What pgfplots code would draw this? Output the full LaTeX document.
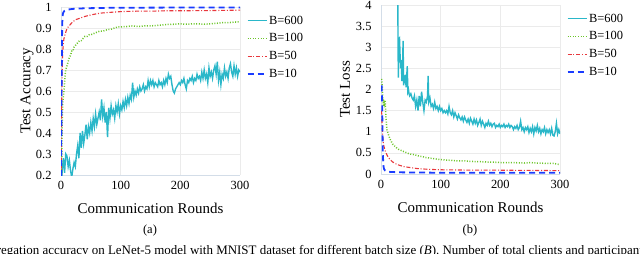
\documentclass[border=0pt]{standalone}
\usepackage{pgfplots}
\pgfplotsset{compat=1.18}
\usepackage{fontspec}
\setmainfont{Liberation Serif}
\definecolor{cB600}{HTML}{2AB7C9}
\definecolor{cB100}{HTML}{6CC52A}
\definecolor{cB50}{HTML}{E8383D}
\definecolor{cB10}{HTML}{1A3CFF}
\definecolor{gridc}{HTML}{EBEBEB}
\definecolor{axc}{HTML}{D3DDE8}
\pgfplotsset{
  mystyle/.style={
    width=179bp, height=168bp, scale only axis,
    xmin=0, xmax=300, xtick={0,100,200,300},
    axis lines*=left, axis line style={draw=axc, line width=0.8bp, -},
    grid=major, major grid style={draw=gridc, line width=0.6bp},
    major tick length=0pt,
    /pgf/number format/assume math mode=true,
    tick label style={font=\fontsize{12.5}{15}\selectfont},
    yticklabel style={xshift=-6bp},
    xticklabel style={yshift=-3bp},
    label style={font=\fontsize{15}{18}\selectfont},
    x label style={at={(axis description cs:0.5,0)}, anchor=center, yshift=-33bp},
    legend style={draw=none, fill=none, anchor=north west, at={(1.02,0.97)},
      font=\fontsize{12.5}{15}\selectfont, cells={anchor=west}, row sep=5bp,
      nodes={inner sep=1.5bp}},
    legend image code/.code={\draw[##1] (0bp,0bp) -- (19bp,0bp);},
    clip=true,
  },
  s600/.style={color=cB600, line width=1.4bp, solid},
  s100/.style={color=cB100, line width=1.5bp, dash pattern=on 1bp off 1.6bp},
  s50/.style={color=cB50, line width=1.1bp, dash pattern=on 4bp off 1.8bp on 1bp off 1.8bp},
  s10/.style={color=cB10, line width=1.8bp, dash pattern=on 6bp off 4bp},
}
\begin{document}
\begin{tikzpicture}[x=1bp,y=1bp]
\begin{axis}[mystyle, at={(61bp,78bp)}, anchor=south west,
  ymin=0.2, ymax=1, ytick={0.2,0.3,0.4,0.5,0.6,0.7,0.8,0.9,1},
  xlabel={Communication Rounds}, ylabel={Test Accuracy},
  y label style={at={(axis description cs:0,0.5)}, anchor=center, rotate=0, yshift=34bp}]
\addplot[s600] coordinates {
(0,0.12)(2,0.22)(4,0.28)(6,0.21)(8,0.30)(10,0.29)(12,0.24)(14,0.27)(16,0.22)(18,0.19)
(20,0.23)(22,0.26)(24,0.24)(26,0.30)(28,0.34)(30,0.28)(32,0.40)(34,0.33)(36,0.41)(38,0.35)
(40,0.39)(42,0.44)(44,0.37)(46,0.43)(48,0.40)(50,0.45)(52,0.41)(54,0.47)(56,0.43)(58,0.49)
(60,0.44)(62,0.47)(64,0.50)(66,0.46)(68,0.56)(70,0.48)(72,0.52)(74,0.45)(76,0.50)(78,0.38)
(80,0.52)(82,0.47)(84,0.53)(86,0.49)(88,0.51)(90,0.47)(92,0.53)(94,0.50)(96,0.54)(98,0.49)
(100,0.53)(102,0.51)(104,0.55)(106,0.52)(108,0.56)(110,0.53)(112,0.57)(114,0.54)(116,0.58)(118,0.56)
(120,0.64)(122,0.57)(124,0.60)(126,0.58)(128,0.61)(130,0.59)(132,0.62)(134,0.60)(136,0.61)(138,0.63)
(140,0.60)(142,0.62)(144,0.61)(146,0.65)(148,0.62)(150,0.65)(152,0.63)(154,0.65)(156,0.62)(158,0.64)
(160,0.63)(162,0.62)(164,0.65)(166,0.63)(168,0.64)(170,0.62)(172,0.65)(174,0.63)(176,0.66)(178,0.64)
(180,0.68)(182,0.66)(184,0.67)(186,0.63)(188,0.60)(190,0.59)(192,0.61)(194,0.62)(196,0.63)(198,0.64)
(200,0.63)(202,0.65)(204,0.64)(206,0.66)(208,0.63)(210,0.61)(212,0.65)(214,0.64)(216,0.66)(218,0.65)
(220,0.67)(222,0.64)(224,0.66)(226,0.65)(228,0.68)(230,0.66)(232,0.67)(234,0.65)(236,0.69)(238,0.66)
(240,0.70)(242,0.66)(244,0.68)(246,0.64)(248,0.71)(250,0.67)(252,0.69)(254,0.66)(256,0.70)(258,0.72)
(260,0.68)(262,0.74)(264,0.65)(266,0.69)(268,0.63)(270,0.68)(272,0.66)(274,0.71)(276,0.67)(278,0.69)
(280,0.66)(282,0.71)(284,0.73)(286,0.69)(288,0.67)(290,0.72)(292,0.68)(294,0.71)(296,0.67)(298,0.70)(300,0.69)
};
\addlegendentry{B=600}
\addplot[s100] coordinates {
(0,0.10)(1,0.22)(2,0.45)(3,0.55)(4,0.57)(5,0.60)(6,0.64)(7,0.68)(8,0.70)(10,0.72)(12,0.74)(14,0.76)
(16,0.77)(18,0.79)(20,0.79)(22,0.81)(25,0.82)(28,0.83)(31,0.84)(34,0.84)(37,0.85)(40,0.86)(44,0.86)
(48,0.87)(52,0.87)(56,0.875)(60,0.88)(65,0.885)(70,0.885)(75,0.89)(80,0.893)(85,0.895)(90,0.90)
(95,0.905)(100,0.905)(110,0.907)(120,0.91)(130,0.907)(140,0.91)(150,0.91)(160,0.912)(170,0.915)
(180,0.917)(190,0.918)(200,0.92)(210,0.918)(220,0.92)(230,0.92)(240,0.918)(250,0.92)(260,0.922)
(270,0.925)(280,0.925)(290,0.928)(300,0.93)
};
\addlegendentry{B=100}
\addplot[s50] coordinates {
(0,0.10)(1,0.50)(2,0.70)(3,0.79)(4,0.83)(5,0.85)(7,0.87)(9,0.89)(12,0.905)(15,0.915)(20,0.93)
(25,0.94)(30,0.945)(35,0.95)(40,0.955)(50,0.962)(60,0.968)(70,0.972)(80,0.974)(90,0.976)(100,0.978)
(125,0.98)(150,0.98)(175,0.982)(200,0.982)(250,0.983)(300,0.985)
};
\addlegendentry{B=50}
\addplot[s10] coordinates {
(0,0.10)(1,0.60)(2,0.92)(3,0.965)(4,0.975)(6,0.982)(8,0.985)(12,0.988)(20,0.991)(40,0.994)
(80,0.996)(150,0.997)(300,0.998)
};
\addlegendentry{B=10}
\end{axis}
\begin{axis}[mystyle, at={(381bp,79bp)}, anchor=south west, height=169bp,
  ymin=0, ymax=4, ytick={0,0.5,1,1.5,2,2.5,3,3.5,4},
  xlabel={Communication Rounds}, ylabel={Test Loss},
  y label style={at={(axis description cs:0,0.5)}, anchor=center, yshift=36bp}]
\addplot[s600] coordinates {
(28,4.3)(29,2.28)(30,3.2)(31,3.22)(32,2.8)(33,2.5)(34,2.7)(35,2.2)(36,2.45)(37,3.15)(38,2.1)(39,2.3)
(40,2.15)(41,2.35)(42,2.05)(43,2.3)(44,2.55)(45,1.95)(46,2.0)(47,1.9)(48,1.85)(50,1.9)(52,1.8)
(54,1.75)(56,1.85)(58,1.6)(60,1.75)(62,1.5)(64,1.85)(66,1.6)(68,1.95)(70,1.7)(72,1.5)(74,1.75)
(76,1.7)(78,1.85)(79,2.32)(80,1.7)(82,1.8)(84,1.6)(86,1.65)(88,1.55)(90,1.7)(92,1.55)(94,1.6)
(96,1.5)(98,1.6)(100,1.5)(102,1.55)(104,1.45)(106,1.5)(108,1.45)(110,1.5)(112,1.42)(114,1.6)
(116,1.45)(118,1.4)(120,1.5)(122,1.35)(124,1.45)(126,1.38)(128,1.3)(130,1.4)(132,1.33)(134,1.28)
(136,1.35)(138,1.25)(140,1.35)(142,1.28)(144,1.22)(146,1.3)(148,1.2)(150,1.32)(152,1.25)(154,1.18)
(156,1.3)(158,1.2)(160,1.28)(162,1.15)(164,1.22)(166,1.3)(168,1.15)(170,1.25)(172,1.18)(174,1.1)
(176,1.2)(178,1.15)(180,1.25)(182,1.15)(184,1.2)(186,1.12)(188,1.18)(190,1.2)(192,1.1)(194,1.15)
(196,1.12)(198,1.18)(200,1.1)(202,1.15)(204,1.12)(206,1.18)(208,1.1)(210,1.15)(212,1.12)(214,1.18)
(216,1.1)(218,1.15)(220,1.12)(222,1.05)(224,1.12)(226,1.08)(228,1.15)(230,1.05)(232,1.1)(234,1.25)
(236,1.05)(238,1.1)(240,1.0)(242,1.1)(244,1.05)(246,1.12)(248,0.98)(250,1.08)(252,1.0)(254,1.12)
(256,0.95)(258,1.1)(260,1.02)(262,1.15)(264,1.0)(266,1.08)(268,0.95)(270,1.05)(272,1.0)(274,1.1)
(276,0.95)(278,1.05)(280,0.98)(282,1.05)(284,0.95)(286,1.08)(288,0.92)(290,0.9)(292,1.0)(294,1.2)
(296,0.95)(298,1.05)(300,0.95)
};
\addlegendentry{B=600}
\addplot[s100] coordinates {
(1,2.25)(2,2.1)(3,1.75)(4,1.6)(5,1.7)(6,1.65)(7,1.75)(8,1.4)(9,1.2)(10,1.05)(12,0.95)(14,0.87)
(16,0.8)(18,0.75)(20,0.7)(23,0.66)(26,0.62)(30,0.58)(35,0.55)(40,0.52)(45,0.49)(50,0.47)(55,0.46)
(60,0.44)(65,0.42)(70,0.41)(75,0.39)(80,0.38)(90,0.36)(100,0.34)(110,0.33)(120,0.32)(130,0.31)
(140,0.31)(150,0.30)(160,0.29)(170,0.29)(180,0.28)(190,0.28)(200,0.27)(220,0.27)(240,0.26)
(250,0.27)(260,0.26)(280,0.25)(290,0.25)(300,0.22)
};
\addlegendentry{B=100}
\addplot[s50] coordinates {
(1,1.5)(2,1.1)(3,0.85)(4,0.72)(5,0.65)(7,0.55)(10,0.45)(13,0.38)(16,0.33)(20,0.28)(25,0.24)
(30,0.21)(35,0.19)(40,0.17)(50,0.15)(60,0.13)(70,0.12)(80,0.11)(90,0.105)(100,0.10)(130,0.095)
(160,0.09)(200,0.09)(250,0.085)(300,0.08)
};
\addlegendentry{B=50}
\addplot[s10] coordinates {
(1,2.1)(2,1.6)(3,0.5)(4,0.2)(5,0.12)(7,0.08)(10,0.06)(15,0.05)(30,0.04)(60,0.035)(100,0.03)
(200,0.03)(300,0.03)
};
\addlegendentry{B=10}
\end{axis}
\node[font=\fontsize{12.5}{15}\selectfont] at (150,22) {(a)};
\node[font=\fontsize{12.5}{15}\selectfont] at (470,22) {(b)};
\node[anchor=base west, inner sep=0pt, font=\fontsize{13}{15}\selectfont] at (1,-1.5)
  {\llap{Fig. 5: Aggr}egation accuracy on LeNet-5 model with MNIST dataset for different batch size (\textit{B}). Number of total clients and participants};
\pgfresetboundingbox
\path[use as bounding box] (0,0) rectangle (640,253);
\end{tikzpicture}
\end{document}
